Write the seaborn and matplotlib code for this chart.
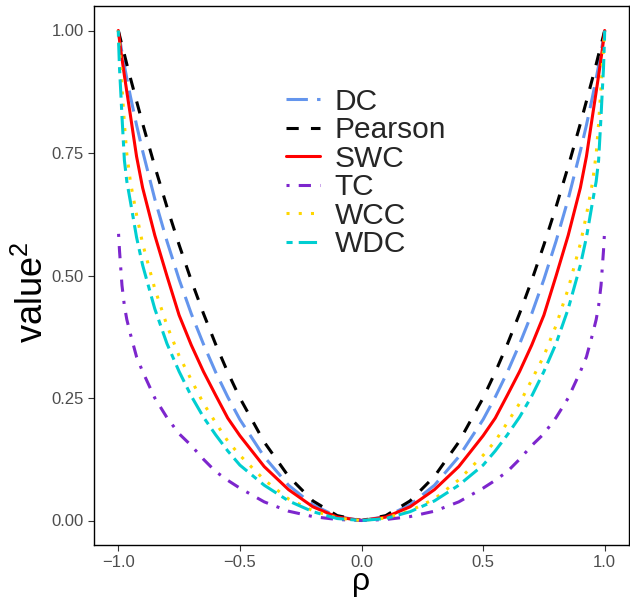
import pandas as pd
import matplotlib
matplotlib.use("Agg")
import matplotlib.pyplot as plt
import seaborn as sns

# values (squared dependence measures vs rho)
rho = [-1.0, -0.999, -0.995, -0.99, -0.985, -0.975, -0.965, -0.95, -0.925, -0.9,
       -0.85, -0.8, -0.75, -0.7, -0.65, -0.6, -0.55, -0.5, -0.4, -0.3, -0.2, -0.1,
       0.0,
       0.1, 0.2, 0.3, 0.4, 0.5, 0.55, 0.6, 0.65, 0.7, 0.75, 0.8, 0.85,
       0.9, 0.925, 0.95, 0.965, 0.975, 0.985, 0.99, 0.995, 0.999, 1.0]

# one side of each curve, from |rho| = 1 down to |rho| = 0.1 (curves are symmetric)
half_dc = [1.0, 0.997, 0.984, 0.970, 0.955, 0.928, 0.902, 0.865, 0.807, 0.754,
           0.656, 0.570, 0.492, 0.422, 0.360, 0.303, 0.252, 0.206, 0.130, 0.072,
           0.032, 0.008]
half_pearson = [1.0, 0.998, 0.990, 0.980, 0.970, 0.951, 0.931, 0.9025, 0.856, 0.81,
                0.7225, 0.64, 0.5625, 0.49, 0.4225, 0.36, 0.3025, 0.25, 0.16, 0.09,
                0.04, 0.01]
half_swc = [1.0, 0.996, 0.980, 0.960, 0.943, 0.908, 0.875, 0.826, 0.743, 0.679,
            0.582, 0.499, 0.419, 0.358, 0.304, 0.256, 0.209, 0.173, 0.110, 0.063,
            0.028, 0.007]
half_tc = [None, 0.585, 0.550, 0.515, 0.480, 0.438, 0.410, 0.380, 0.334, 0.304,
           0.250, 0.210, 0.177, 0.153, 0.125, 0.100, 0.082, 0.066, 0.038, 0.019,
           0.008, 0.002]
half_wcc = [1.0, 0.992, 0.960, 0.925, 0.885, 0.810, 0.748, 0.690, 0.624, 0.565,
            0.473, 0.398, 0.336, 0.287, 0.239, 0.200, 0.162, 0.133, 0.083, 0.044,
            0.020, 0.005]
half_wdc = [1.0, 0.978, 0.922, 0.875, 0.825, 0.735, 0.692, 0.650, 0.578, 0.521,
            0.432, 0.361, 0.304, 0.254, 0.211, 0.175, 0.142, 0.113, 0.072, 0.040,
            0.018, 0.004]

measures = ["DC", "Pearson", "SWC", "TC", "WCC", "WDC"]
halves = [half_dc, half_pearson, half_swc, half_tc, half_wcc, half_wdc]

colors = {"DC": "#6495ED", "Pearson": "black", "SWC": "red",
          "TC": "#7D26CD", "WCC": "#FFD700", "WDC": "#00CED1"}
# ggplot linetypes: longdash, dashed, solid, dotdash, dotted, twodash
dashes = {"DC": (7, 3), "Pearson": (4, 4), "SWC": "", "TC": (1, 3, 4, 3),
          "WCC": (1, 3), "WDC": (2, 2, 6, 2)}

rows = []
for name, half in zip(measures, halves):
    vals = half + [0.0] + half[::-1]
    for r, v in zip(rho, vals):
        rows.append({"rho": r, "value": v, "measure": name})
df = pd.DataFrame(rows).dropna()

sns.set_style("white")
plt.rcParams["font.family"] = ["Liberation Sans", "DejaVu Sans"]
plt.rcParams["mathtext.fontset"] = "custom"
plt.rcParams["mathtext.rm"] = "Liberation Sans"
plt.rcParams["mathtext.it"] = "Liberation Sans:italic"

fig = plt.figure(figsize=(6.3, 6.01), dpi=100)
ax = fig.add_axes([94 / 630, 56 / 601, 535 / 630, 539 / 601])

lw = 2.2
sns.lineplot(data=df, x="rho", y="value", hue="measure", style="measure",
             hue_order=measures, style_order=measures, palette=colors,
             dashes=dashes, estimator=None, sort=True, linewidth=lw, ax=ax)

ax.set_xlim(-1.1, 1.1)
ax.set_ylim(-0.05, 1.05)
ax.set_xticks([-1.0, -0.5, 0.0, 0.5, 1.0])
ax.set_xticklabels(["\u22121.0", "\u22120.5", "0.0", "0.5", "1.0"])
ax.set_yticks([0.0, 0.25, 0.5, 0.75, 1.0])
ax.set_yticklabels(["0.00", "0.25", "0.50", "0.75", "1.00"])
ax.tick_params(axis="both", direction="out", length=4.3, width=0.8,
               color="#333333", labelcolor="#4D4D4D", labelsize=12, pad=2.9,
               bottom=True, left=True)

for s in ax.spines.values():
    s.set_visible(True)
    s.set_color("black")
    s.set_linewidth(1.0)

ax.set_xlabel("\u03c1", fontsize=23, color="black", va="baseline")
ax.set_ylabel(r"value$^{2}$", fontsize=26, color="black")
ax.xaxis.set_label_coords(0.5, -0.083)
ax.yaxis.set_label_coords(-0.08, 0.469)

handles, labels = ax.get_legend_handles_labels()
keep = [(h, l) for h, l in zip(handles, labels) if l in measures]
for h, _ in keep:
    h.set_linewidth(lw)
leg = ax.legend([h for h, _ in keep], [l for _, l in keep],
                loc="upper left", bbox_to_anchor=(0.358, 0.848),
                frameon=False, fontsize=21.5, handlelength=1.17,
                handletextpad=0.48, labelspacing=0.015, borderpad=0,
                borderaxespad=0)

fig.savefig("out.png", dpi=100)
